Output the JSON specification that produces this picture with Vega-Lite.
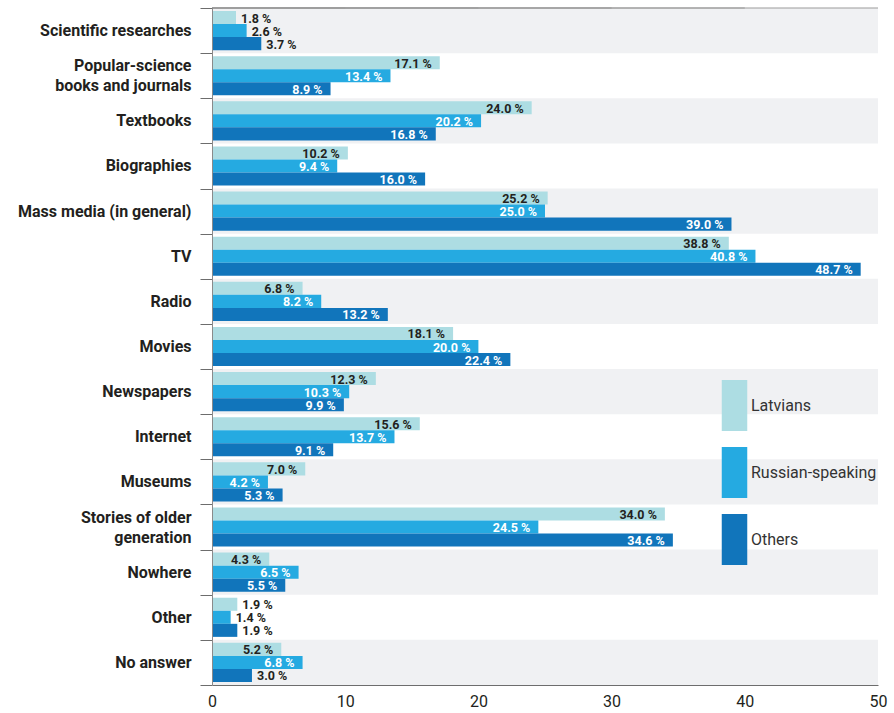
{
  "$schema": "https://vega.github.io/schema/vega-lite/v6.json",
  "width": 666,
  "height": 677,
  "autosize": "none",
  "padding": {"left": 212, "top": 8, "right": 16, "bottom": 28},
  "background": "white",
  "config": {"view": {"stroke": null}, "font": "Roboto"},
  "datasets": {
    "grid": [{"g": 10}, {"g": 20}, {"g": 30}, {"g": 40}, {"g": 50}]
  },
  "data": {"values": [
    {"category": "Scientific researches", "group": "Latvians", "value": 1.8},
    {"category": "Scientific researches", "group": "Russian-speaking", "value": 2.6},
    {"category": "Scientific researches", "group": "Others", "value": 3.7},
    {"category": "Popular-science books and journals", "group": "Latvians", "value": 17.1},
    {"category": "Popular-science books and journals", "group": "Russian-speaking", "value": 13.4},
    {"category": "Popular-science books and journals", "group": "Others", "value": 8.9},
    {"category": "Textbooks", "group": "Latvians", "value": 24.0},
    {"category": "Textbooks", "group": "Russian-speaking", "value": 20.2},
    {"category": "Textbooks", "group": "Others", "value": 16.8},
    {"category": "Biographies", "group": "Latvians", "value": 10.2},
    {"category": "Biographies", "group": "Russian-speaking", "value": 9.4},
    {"category": "Biographies", "group": "Others", "value": 16.0},
    {"category": "Mass media (in general)", "group": "Latvians", "value": 25.2},
    {"category": "Mass media (in general)", "group": "Russian-speaking", "value": 25.0},
    {"category": "Mass media (in general)", "group": "Others", "value": 39.0},
    {"category": "TV", "group": "Latvians", "value": 38.8},
    {"category": "TV", "group": "Russian-speaking", "value": 40.8},
    {"category": "TV", "group": "Others", "value": 48.7},
    {"category": "Radio", "group": "Latvians", "value": 6.8},
    {"category": "Radio", "group": "Russian-speaking", "value": 8.2},
    {"category": "Radio", "group": "Others", "value": 13.2},
    {"category": "Movies", "group": "Latvians", "value": 18.1},
    {"category": "Movies", "group": "Russian-speaking", "value": 20.0},
    {"category": "Movies", "group": "Others", "value": 22.4},
    {"category": "Newspapers", "group": "Latvians", "value": 12.3},
    {"category": "Newspapers", "group": "Russian-speaking", "value": 10.3},
    {"category": "Newspapers", "group": "Others", "value": 9.9},
    {"category": "Internet", "group": "Latvians", "value": 15.6},
    {"category": "Internet", "group": "Russian-speaking", "value": 13.7},
    {"category": "Internet", "group": "Others", "value": 9.1},
    {"category": "Museums", "group": "Latvians", "value": 7.0},
    {"category": "Museums", "group": "Russian-speaking", "value": 4.2},
    {"category": "Museums", "group": "Others", "value": 5.3},
    {"category": "Stories of older generation", "group": "Latvians", "value": 34.0},
    {"category": "Stories of older generation", "group": "Russian-speaking", "value": 24.5},
    {"category": "Stories of older generation", "group": "Others", "value": 34.6},
    {"category": "Nowhere", "group": "Latvians", "value": 4.3},
    {"category": "Nowhere", "group": "Russian-speaking", "value": 6.5},
    {"category": "Nowhere", "group": "Others", "value": 5.5},
    {"category": "Other", "group": "Latvians", "value": 1.9},
    {"category": "Other", "group": "Russian-speaking", "value": 1.4},
    {"category": "Other", "group": "Others", "value": 1.9},
    {"category": "No answer", "group": "Latvians", "value": 5.2},
    {"category": "No answer", "group": "Russian-speaking", "value": 6.8},
    {"category": "No answer", "group": "Others", "value": 3.0}
  ]},
  "encoding": {
    "y": {
      "field": "category",
      "type": "nominal",
      "title": null,
      "scale": {
        "domain": ["Scientific researches", "Popular-science books and journals", "Textbooks", "Biographies", "Mass media (in general)", "TV", "Radio", "Movies", "Newspapers", "Internet", "Museums", "Stories of older generation", "Nowhere", "Other", "No answer"],
        "paddingInner": 0,
        "paddingOuter": 0
      },
      "axis": {
        "tickBand": "extent",
        "domainColor": "#8a8a8a",
        "tickColor": "#6d6d6d",
        "tickSize": 12,
        "labelPadding": 9,
        "labelFontSize": 16,
        "labelFontWeight": "bold",
        "labelColor": "#231f20",
        "labelLineHeight": 20,
        "labelLimit": 300,
        "labelExpr": "datum.value == 'Popular-science books and journals' ? ['Popular-science', 'books and journals'] : datum.value == 'Stories of older generation' ? ['Stories of older', 'generation'] : datum.value",
        "labelOffset": {
          "condition": {"test": "datum.value == 'Popular-science books and journals' || datum.value == 'Stories of older generation'", "value": -10},
          "value": 0
        }
      }
    }
  },
  "layer": [
    {
      "transform": [
        {"filter": "datum.group == 'Latvians'"},
        {"window": [{"op": "row_number", "as": "rn"}]},
        {"filter": "datum.rn % 2 == 1"}
      ],
      "mark": {"type": "rect", "color": "#f0f1f3"},
      "encoding": {
        "x": {"datum": 0, "type": "quantitative"},
        "x2": {"datum": 50}
      }
    },
    {
      "data": {"name": "grid"},
      "mark": {"type": "rule", "color": "#9b9b9b", "strokeWidth": 1},
      "encoding": {
        "x": {"field": "g", "type": "quantitative"}
      }
    },
    {
      "mark": {"type": "bar"},
      "encoding": {
        "x": {
          "field": "value",
          "type": "quantitative",
          "title": null,
          "scale": {"domain": [0, 50], "nice": false},
          "axis": {
            "values": [0, 10, 20, 30, 40, 50],
            "grid": false,
            "ticks": false,
            "domainColor": "#6d6d6d",
            "labelFontSize": 16,
            "labelColor": "#231f20",
            "labelPadding": 8,
            "labelFontWeight": "normal",
            "labelFlush": false
          }
        },
        "yOffset": {
          "field": "group",
          "sort": ["Latvians", "Russian-speaking", "Others"],
          "scale": {"paddingOuter": 0.23, "paddingInner": 0}
        },
        "color": {
          "field": "group",
          "type": "nominal",
          "scale": {"domain": ["Latvians", "Russian-speaking", "Others"], "range": ["#addde3", "#25aae1", "#1175bb"]},
          "legend": {
            "title": null,
            "orient": "none",
            "legendX": 497,
            "legendY": 372,
            "padding": 0,
            "symbolType": "M-0.5,-1H0.5V1H-0.5Z",
            "symbolSize": 2601,
            "symbolStrokeWidth": 0,
            "symbolOpacity": 1,
            "rowPadding": 16,
            "labelOffset": -9,
            "labelFontSize": 16,
            "labelColor": "#333333",
            "labelFontWeight": "normal"
          }
        }
      }
    },
    {
      "transform": [
        {"filter": "datum.value >= 4"},
        {"calculate": "format(datum.value, '.1f') + ' %'", "as": "label"}
      ],
      "mark": {"type": "text", "align": "right", "baseline": "middle", "dx": -8, "dy": 1, "fontSize": 12.5, "fontWeight": "bold"},
      "encoding": {
        "x": {"field": "value", "type": "quantitative"},
        "yOffset": {"field": "group", "sort": ["Latvians", "Russian-speaking", "Others"]},
        "text": {"field": "label"},
        "color": {"condition": {"test": "datum.group == 'Latvians'", "value": "#231f20"}, "value": "#ffffff"}
      }
    },
    {
      "transform": [
        {"filter": "datum.value < 4"},
        {"calculate": "format(datum.value, '.1f') + ' %'", "as": "label"}
      ],
      "mark": {"type": "text", "align": "left", "baseline": "middle", "dx": 5, "dy": 1, "fontSize": 12.5, "fontWeight": "bold", "color": "#231f20"},
      "encoding": {
        "x": {"field": "value", "type": "quantitative"},
        "yOffset": {"field": "group", "sort": ["Latvians", "Russian-speaking", "Others"]},
        "text": {"field": "label"}
      }
    }
  ]
}
